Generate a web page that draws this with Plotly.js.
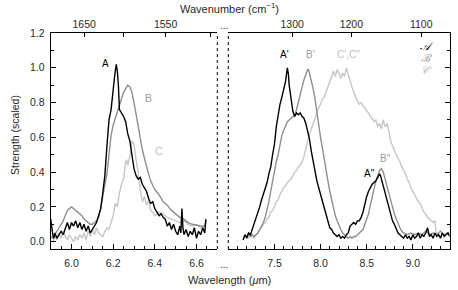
<!DOCTYPE html>
<html><head><meta charset="utf-8">
<script src="https://cdn.plot.ly/plotly-3.0.1.min.js"></script>
<style>html,body{margin:0;padding:0;background:#fff}#c{width:458px;height:290px}</style>
</head><body><div id="c"></div>
<script>
// ---------- data ----------
// Left panel (6 micron region)
const leftA_x = [5.900,5.905,5.910,5.915,5.920,5.930,5.940,5.950,5.960,5.970,5.980,5.990,6.000,6.010,6.020,6.030,6.040,6.050,6.060,6.070,6.080,6.090,6.100,6.110,6.120,6.130,6.140,6.150,6.160,6.170,6.180,6.190,6.200,6.205,6.210,6.215,6.220,6.225,6.230,6.240,6.250,6.260,6.270,6.280,6.290,6.300,6.310,6.320,6.330,6.340,6.350,6.360,6.370,6.380,6.390,6.400,6.410,6.420,6.430,6.440,6.450,6.460,6.470,6.480,6.490,6.500,6.510,6.520,6.525,6.530,6.535,6.540,6.550,6.560,6.570,6.580,6.590,6.600,6.610,6.620,6.630,6.640,6.645];
const leftA_y = [0.13,0.08,0.04,0.02,0.05,0.02,0.04,0.06,0.04,0.08,0.11,0.07,0.11,0.09,0.12,0.08,0.11,0.07,0.10,0.06,0.09,0.05,0.07,0.09,0.11,0.15,0.19,0.28,0.38,0.55,0.70,0.76,0.90,0.93,0.98,1.02,0.98,0.90,0.76,0.74,0.72,0.69,0.62,0.58,0.50,0.42,0.38,0.36,0.37,0.33,0.31,0.29,0.25,0.22,0.23,0.19,0.17,0.15,0.16,0.14,0.13,0.09,0.11,0.07,0.10,0.06,0.04,0.09,0.05,0.19,0.08,0.04,0.07,0.03,0.06,0.04,0.08,0.02,0.06,0.04,0.08,0.05,0.13];
const leftB_x = [5.90,5.91,5.92,5.93,5.94,5.95,5.96,5.97,5.98,5.99,6.00,6.01,6.02,6.03,6.04,6.05,6.06,6.07,6.08,6.09,6.10,6.11,6.12,6.13,6.14,6.15,6.16,6.17,6.18,6.19,6.20,6.21,6.22,6.23,6.24,6.25,6.26,6.27,6.28,6.29,6.30,6.31,6.32,6.33,6.34,6.35,6.36,6.37,6.38,6.39,6.40,6.42,6.44,6.46,6.48,6.50,6.52,6.54,6.56,6.58,6.60,6.62,6.64,6.645];
const leftB_y = [0.03,0.02,0.04,0.06,0.08,0.10,0.12,0.15,0.18,0.19,0.20,0.19,0.18,0.17,0.16,0.15,0.13,0.12,0.11,0.10,0.10,0.11,0.12,0.14,0.19,0.26,0.32,0.39,0.50,0.61,0.67,0.71,0.75,0.79,0.83,0.86,0.88,0.90,0.89,0.86,0.80,0.73,0.66,0.59,0.53,0.48,0.43,0.39,0.35,0.32,0.30,0.27,0.23,0.21,0.18,0.16,0.14,0.13,0.11,0.10,0.095,0.09,0.09,0.12];
const leftC_x = [5.91,5.92,5.93,5.94,5.95,5.96,5.97,5.98,5.99,6.00,6.01,6.02,6.03,6.04,6.05,6.06,6.07,6.08,6.09,6.10,6.11,6.12,6.13,6.14,6.15,6.16,6.17,6.18,6.19,6.20,6.21,6.22,6.23,6.24,6.25,6.26,6.265,6.27,6.28,6.29,6.295,6.30,6.31,6.32,6.33,6.34,6.35,6.36,6.37,6.38,6.39,6.40,6.42,6.44,6.46,6.48,6.50,6.52,6.54,6.56,6.58,6.60,6.62,6.64,6.645];
const leftC_y = [0.00,0.03,0.01,0.05,0.02,0.06,0.03,0.01,0.04,0.02,0.00,0.03,0.01,0.04,0.02,0.05,0.01,0.06,0.03,0.07,0.04,0.08,0.05,0.04,0.03,0.06,0.08,0.07,0.11,0.15,0.22,0.20,0.28,0.33,0.36,0.46,0.47,0.44,0.49,0.58,0.57,0.56,0.47,0.40,0.30,0.23,0.26,0.21,0.24,0.18,0.17,0.15,0.17,0.16,0.14,0.13,0.12,0.11,0.12,0.10,0.09,0.10,0.08,0.09,0.08];

// Right panel (7-9.4 micron region)
const rightA_x = [7.16,7.18,7.20,7.22,7.24,7.26,7.28,7.30,7.32,7.34,7.36,7.38,7.40,7.42,7.44,7.46,7.48,7.50,7.52,7.54,7.56,7.58,7.60,7.62,7.64,7.65,7.66,7.68,7.70,7.72,7.74,7.76,7.78,7.80,7.82,7.84,7.86,7.88,7.90,7.92,7.94,7.96,7.98,8.00,8.02,8.04,8.06,8.08,8.10,8.12,8.14,8.16,8.18,8.20,8.22,8.24,8.26,8.28,8.30,8.32,8.34,8.36,8.38,8.40,8.42,8.44,8.46,8.48,8.50,8.52,8.54,8.56,8.58,8.60,8.62,8.64,8.65,8.66,8.68,8.70,8.72,8.74,8.76,8.78,8.80,8.82,8.84,8.86,8.88,8.90,8.92,8.94,8.96,8.98,9.00,9.02,9.04,9.06,9.08,9.10,9.12,9.14,9.16,9.18,9.20,9.22,9.24,9.26,9.28,9.30,9.32,9.34,9.36,9.38,9.40];
const rightA_y = [0.01,0.04,0.02,0.05,0.04,0.07,0.10,0.13,0.17,0.20,0.24,0.27,0.31,0.34,0.39,0.43,0.50,0.56,0.66,0.73,0.79,0.83,0.88,0.92,1.00,0.97,0.90,0.82,0.75,0.72,0.74,0.73,0.74,0.72,0.71,0.68,0.64,0.59,0.52,0.46,0.40,0.35,0.31,0.27,0.23,0.19,0.15,0.12,0.08,0.07,0.05,0.04,0.03,0.04,0.02,0.03,0.02,0.04,0.05,0.09,0.10,0.11,0.10,0.12,0.12,0.14,0.17,0.22,0.26,0.29,0.31,0.33,0.34,0.35,0.37,0.39,0.38,0.36,0.31,0.27,0.23,0.19,0.15,0.12,0.10,0.07,0.05,0.04,0.03,0.02,0.04,0.02,0.03,0.01,0.04,0.02,0.03,0.05,0.02,0.04,0.03,0.05,0.08,0.03,0.04,0.02,0.05,0.03,0.04,0.02,0.05,0.03,0.04,0.05,0.03];
const rightB_x = [7.18,7.20,7.22,7.24,7.26,7.28,7.30,7.32,7.34,7.36,7.38,7.40,7.42,7.44,7.46,7.48,7.50,7.52,7.54,7.56,7.58,7.60,7.62,7.64,7.66,7.68,7.70,7.72,7.74,7.76,7.78,7.80,7.82,7.84,7.86,7.87,7.88,7.90,7.92,7.94,7.96,7.98,8.00,8.02,8.04,8.06,8.08,8.10,8.12,8.14,8.16,8.18,8.20,8.22,8.24,8.26,8.28,8.30,8.32,8.34,8.36,8.38,8.40,8.42,8.44,8.46,8.48,8.50,8.52,8.54,8.56,8.58,8.60,8.62,8.64,8.66,8.68,8.70,8.72,8.74,8.76,8.78,8.80,8.82,8.84,8.86,8.88,8.90,8.94,8.98,9.02,9.06,9.10,9.14,9.18,9.22,9.26,9.30,9.34,9.38,9.40];
const rightB_y = [0.04,0.03,0.05,0.03,0.04,0.03,0.04,0.05,0.07,0.09,0.11,0.14,0.18,0.23,0.29,0.35,0.41,0.46,0.50,0.56,0.61,0.64,0.67,0.69,0.70,0.71,0.72,0.73,0.76,0.81,0.85,0.89,0.93,0.96,0.99,0.99,0.97,0.93,0.88,0.82,0.74,0.67,0.60,0.54,0.47,0.41,0.35,0.29,0.24,0.19,0.15,0.12,0.09,0.07,0.05,0.04,0.03,0.02,0.03,0.02,0.03,0.03,0.04,0.05,0.06,0.07,0.10,0.13,0.16,0.21,0.26,0.31,0.35,0.38,0.41,0.42,0.40,0.36,0.32,0.27,0.23,0.19,0.16,0.13,0.10,0.08,0.06,0.05,0.04,0.05,0.04,0.05,0.04,0.06,0.04,0.05,0.04,0.06,0.04,0.05,0.05];
const rightC_x = [7.20,7.22,7.24,7.26,7.28,7.30,7.32,7.34,7.36,7.38,7.40,7.42,7.44,7.46,7.48,7.50,7.52,7.54,7.56,7.58,7.60,7.62,7.64,7.66,7.68,7.70,7.72,7.74,7.76,7.78,7.80,7.82,7.84,7.86,7.88,7.90,7.92,7.94,7.96,7.98,8.00,8.02,8.04,8.06,8.08,8.10,8.12,8.14,8.16,8.18,8.20,8.22,8.24,8.26,8.28,8.30,8.32,8.34,8.36,8.38,8.40,8.42,8.44,8.46,8.48,8.50,8.52,8.54,8.56,8.58,8.60,8.62,8.64,8.66,8.68,8.70,8.72,8.74,8.76,8.78,8.80,8.82,8.84,8.86,8.88,8.90,8.92,8.94,8.96,8.98,9.00,9.02,9.04,9.06,9.08,9.10,9.12,9.14,9.16,9.18,9.20,9.22,9.24,9.25,9.26,9.28];
const rightC_y = [0.04,0.02,0.05,0.03,0.02,0.04,0.05,0.07,0.08,0.10,0.11,0.13,0.14,0.17,0.18,0.20,0.23,0.24,0.27,0.29,0.31,0.32,0.34,0.35,0.36,0.38,0.40,0.41,0.43,0.44,0.46,0.49,0.54,0.58,0.62,0.65,0.68,0.72,0.74,0.77,0.79,0.82,0.83,0.86,0.89,0.91,0.94,0.98,0.95,0.99,0.97,0.94,0.97,0.95,1.00,0.96,0.92,0.89,0.86,0.83,0.81,0.79,0.80,0.78,0.77,0.75,0.74,0.72,0.71,0.69,0.70,0.66,0.68,0.65,0.70,0.66,0.68,0.64,0.58,0.55,0.52,0.50,0.48,0.46,0.43,0.41,0.39,0.36,0.34,0.31,0.29,0.27,0.25,0.23,0.22,0.19,0.17,0.16,0.14,0.13,0.12,0.11,0.12,0.06,0.05,0.03];

// axis tick labels
const yTickVals = [0.0,0.2,0.4,0.6,0.8,1.0,1.2];
const leftWlTicks = [6.0,6.2,6.4,6.6];
const rightWlTicks = [7.5,8.0,8.5,9.0];
const topLeftWn = [1650,1550];
const topLeftWnMinor = [1600,1500];
const topRightWn = [1300,1200,1100];

// ---------- styles ----------
const cA = "#000000", cB = "#8f8f8f", cC = "#c6c6c6";
const FONT = "Liberation Sans, Arial, sans-serif";
const TXT = "#2a2a2a";

function line(x, y, col, xa, ya) {
  return {x: x, y: y, xaxis: xa, yaxis: ya, type: "scatter", mode: "lines",
          line: {color: col, width: 1.4}, hoverinfo: "skip", showlegend: false};
}
const traces = [
  line(leftC_x, leftC_y, cC, "x", "y"),
  line(leftB_x, leftB_y, cB, "x", "y"),
  line(leftA_x, leftA_y, cA, "x", "y"),
  line(rightC_x, rightC_y, cC, "x2", "y2"),
  line(rightB_x, rightB_y, cB, "x2", "y2"),
  line(rightA_x, rightA_y, cA, "x2", "y2"),
  {x: [], y: [], xaxis: "x3", yaxis: "y", type: "scatter", showlegend: false},
  {x: [], y: [], xaxis: "x4", yaxis: "y2", type: "scatter", showlegend: false}
];

const W = 458, H = 290;
const yDom = [1 - 249 / H, 1 - 33 / H];
const xDomL = [50.7 / W, 217.3 / W];
const xDomR = [228.3 / W, 449.7 / W];
const YR = [-0.042, 1.2];

const tickCommon = {ticks: "inside", ticklen: 5, tickwidth: 1, tickcolor: "#000",
  showline: true, linecolor: "#000", linewidth: 1, showgrid: false, zeroline: false,
  tickfont: {family: FONT, size: 10.5, color: TXT}};

const layout = {
  width: W, height: H, margin: {l: 0, r: 0, t: 0, b: 0},
  paper_bgcolor: "#fff", plot_bgcolor: "rgba(0,0,0,0)", showlegend: false,
  xaxis: Object.assign({}, tickCommon, {domain: xDomL, anchor: "y", range: [5.9, 6.7],
    tickvals: leftWlTicks, tickformat: ".1f", ticklabelstandoff: 4,
    minor: {dtick: 0.05, tick0: 5.9, ticks: "inside", ticklen: 3, tickcolor: "#000"}}),
  xaxis3: Object.assign({}, tickCommon, {overlaying: "x", side: "top", anchor: "y", range: [5.9, 6.7],
    tickvals: topLeftWn.map(w => 1e4 / w), ticktext: topLeftWn.map(String), ticklen: 4, ticklabelstandoff: 0,
    minor: {tickvals: topLeftWnMinor.map(w => 1e4 / w), ticks: "inside", ticklen: 4, tickcolor: "#000"}}),
  xaxis2: Object.assign({}, tickCommon, {domain: xDomR, anchor: "y2", range: [7.0, 9.4],
    tickvals: rightWlTicks, tickformat: ".1f", ticklabelstandoff: 4,
    minor: {dtick: 0.1, tick0: 7.0, ticks: "inside", ticklen: 3, tickcolor: "#000"}}),
  xaxis4: Object.assign({}, tickCommon, {overlaying: "x2", side: "top", anchor: "y2", range: [7.0, 9.4],
    tickvals: topRightWn.map(w => 1e4 / w), ticktext: topRightWn.map(String), ticklen: 4, ticklabelstandoff: 0}),
  yaxis: Object.assign({}, tickCommon, {domain: yDom, anchor: "x", range: YR,
    tickvals: yTickVals, tickformat: ".1f", ticklabelstandoff: 3,
    minor: {dtick: 0.1, tick0: 0, ticks: "inside", ticklen: 3, tickcolor: "#000"}}),
  yaxis2: Object.assign({}, tickCommon, {domain: yDom, anchor: "x2", side: "right", range: YR,
    tickvals: yTickVals, showticklabels: false,
    minor: {dtick: 0.1, tick0: 0, ticks: "inside", ticklen: 3, tickcolor: "#000"}}),
  shapes: [
    {type: "line", xref: "x domain", yref: "y domain", x0: 1, x1: 1, y0: 0, y1: 1,
     line: {color: "#000", width: 1, dash: "dot"}},
    {type: "line", xref: "x2 domain", yref: "y2 domain", x0: 0, x1: 0, y0: 0, y1: 1,
     line: {color: "#000", width: 1, dash: "dot"}}
  ],
  annotations: [
    {xref: "x", yref: "y", x: 6.164, y: 1.022, text: "A", showarrow: false, font: {family: FONT, size: 10, color: cA}},
    {xref: "x", yref: "y", x: 6.369, y: 0.826, text: "B", showarrow: false, font: {family: FONT, size: 10.5, color: "#9a9a9a"}},
    {xref: "x", yref: "y", x: 6.419, y: 0.519, text: "C", showarrow: false, font: {family: FONT, size: 10.5, color: "#bdbdbd"}},
    {xref: "x2", yref: "y2", x: 7.609, y: 1.076, text: "A'", showarrow: false, font: {family: FONT, size: 10, color: cA}},
    {xref: "x2", yref: "y2", x: 7.89, y: 1.076, text: "B'", showarrow: false, font: {family: FONT, size: 10, color: "#9a9a9a"}},
    {xref: "x2", yref: "y2", x: 8.308, y: 1.076, text: "C',C''", showarrow: false, font: {family: FONT, size: 10, color: "#c0c0c0"}},
    {xref: "x2", yref: "y2", x: 8.527, y: 0.394, text: "A''", showarrow: false, font: {family: FONT, size: 10, color: cA}},
    {xref: "x2", yref: "y2", x: 8.709, y: 0.477, text: "B''", showarrow: false, font: {family: FONT, size: 10, color: "#9a9a9a"}},
    {xref: "x2", yref: "y2", x: 9.15, y: 1.122, text: "<i>𝒜</i>", showarrow: false, font: {family: "DejaVu Serif, serif", size: 11, color: cA}},
    {xref: "x2", yref: "y2", x: 9.15, y: 1.053, text: "<i>ℬ</i>", showarrow: false, font: {family: "DejaVu Serif, serif", size: 11, color: "#9a9a9a"}},
    {xref: "x2", yref: "y2", x: 9.15, y: 0.984, text: "<i>𝒞</i>", showarrow: false, font: {family: "DejaVu Serif, serif", size: 11, color: "#b8b8b8"}},
    {xref: "paper", yref: "paper", x: 229 / W, y: 1 - 8 / H, xanchor: "center", yanchor: "middle",
     text: "Wavenumber (cm<sup>−1</sup>)", showarrow: false, font: {family: FONT, size: 11, color: TXT}},
    {xref: "paper", yref: "paper", x: 229 / W, y: 1 - 280 / H, xanchor: "center", yanchor: "middle",
     text: "Wavelength (<i>μ</i>m)", showarrow: false, font: {family: FONT, size: 11, color: TXT}},
    {xref: "paper", yref: "paper", x: 15 / W, y: 1 - 135 / H, xanchor: "center", yanchor: "middle",
     text: "Strength (scaled)", textangle: -90, showarrow: false, font: {family: FONT, size: 10.5, color: TXT}},
    {xref: "paper", yref: "paper", x: 224 / W, y: 1 - 26 / H, xanchor: "center", yanchor: "middle",
     text: "...", showarrow: false, font: {family: FONT, size: 10, color: TXT}},
    {xref: "paper", yref: "paper", x: 224 / W, y: 1 - 264 / H, xanchor: "center", yanchor: "middle",
     text: "...", showarrow: false, font: {family: FONT, size: 10, color: TXT}}
  ]
};

Plotly.newPlot("c", traces, layout, {staticPlot: true, displayModeBar: false});
</script>
</body></html>
